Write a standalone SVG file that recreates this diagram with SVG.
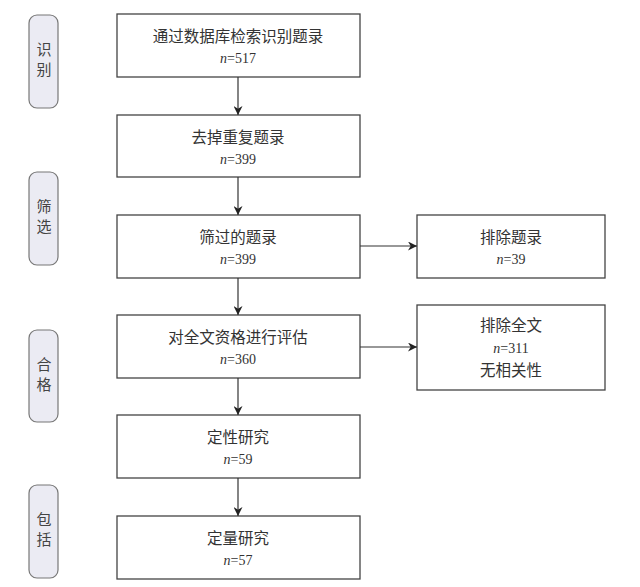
<svg xmlns="http://www.w3.org/2000/svg" width="640" height="587" viewBox="0 0 640 587">
<defs>
<style>
.box{fill:#fff;stroke:#444;stroke-width:1.3}
.side{fill:#ebebf3;stroke:#777;stroke-width:1.2}
.t{font-family:"Liberation Serif","Noto Sans CJK SC",serif;font-size:15.5px;fill:#333;text-anchor:middle}
.n{font-family:"Liberation Serif","Noto Sans CJK SC",serif;font-size:14px;fill:#333;text-anchor:middle}
.s{font-family:"Noto Sans CJK SC",sans-serif;font-size:15px;fill:#444;text-anchor:middle}
.c{stroke:#333;stroke-width:1.2;fill:none;marker-end:url(#ah)}
</style>
<marker id="ah" viewBox="0 0 10 10" refX="10" refY="5" markerWidth="9" markerHeight="9" markerUnits="userSpaceOnUse" orient="auto">
<path d="M0,0 L10,5 L0,10 L3,5 z" fill="#222"/>
</marker>
</defs>
<rect width="640" height="587" fill="#fff"/>
<g id="side1"><rect class="side" x="29" y="15" width="29" height="93" rx="8"/><text class="s" x="44" y="55">识</text><text class="s" x="44" y="75">别</text></g>
<g id="side2"><rect class="side" x="29" y="172" width="29" height="93" rx="8"/><text class="s" x="44" y="212">筛</text><text class="s" x="44" y="232">选</text></g>
<g id="side3"><rect class="side" x="29" y="330" width="29" height="92" rx="8"/><text class="s" x="44" y="370">合</text><text class="s" x="44" y="390">格</text></g>
<g id="side4"><rect class="side" x="29" y="485" width="29" height="93" rx="8"/><text class="s" x="44" y="525">包</text><text class="s" x="44" y="545">括</text></g>
<g id="b1"><rect class="box" x="117" y="14" width="243" height="63"/><text class="t" x="238" y="42">通过数据库检索识别题录</text><text class="n" x="238" y="63"><tspan font-style="italic">n</tspan>=517</text></g>
<g id="b2"><rect class="box" x="117" y="115" width="243" height="62"/><text class="t" x="238" y="143">去掉重复题录</text><text class="n" x="238" y="164"><tspan font-style="italic">n</tspan>=399</text></g>
<g id="b3"><rect class="box" x="117" y="215" width="243" height="63"/><text class="t" x="238" y="243">筛过的题录</text><text class="n" x="238" y="264"><tspan font-style="italic">n</tspan>=399</text></g>
<g id="b4"><rect class="box" x="117" y="315" width="243" height="63"/><text class="t" x="238" y="343">对全文资格进行评估</text><text class="n" x="238" y="364"><tspan font-style="italic">n</tspan>=360</text></g>
<g id="b5"><rect class="box" x="117" y="415" width="243" height="63"/><text class="t" x="238" y="443">定性研究</text><text class="n" x="238" y="464"><tspan font-style="italic">n</tspan>=59</text></g>
<g id="b6"><rect class="box" x="117" y="516" width="243" height="63"/><text class="t" x="238" y="544">定量研究</text><text class="n" x="238" y="565"><tspan font-style="italic">n</tspan>=57</text></g>
<g id="r1"><rect class="box" x="417" y="215" width="188" height="63"/><text class="t" x="511" y="243">排除题录</text><text class="n" x="511" y="264"><tspan font-style="italic">n</tspan>=39</text></g>
<g id="r2"><rect class="box" x="417" y="305" width="188" height="85"/><text class="t" x="511" y="331">排除全文</text><text class="n" x="511" y="353"><tspan font-style="italic">n</tspan>=311</text><text class="t" x="511" y="376">无相关性</text></g>
<g id="connectors">
<line class="c" x1="238" y1="77" x2="238" y2="115"/>
<line class="c" x1="238" y1="177" x2="238" y2="215"/>
<line class="c" x1="238" y1="278" x2="238" y2="315"/>
<line class="c" x1="238" y1="378" x2="238" y2="415"/>
<line class="c" x1="238" y1="478" x2="238" y2="516"/>
<line class="c" x1="360" y1="246" x2="417" y2="246"/>
<line class="c" x1="360" y1="347" x2="417" y2="347"/>
</g>
</svg>
